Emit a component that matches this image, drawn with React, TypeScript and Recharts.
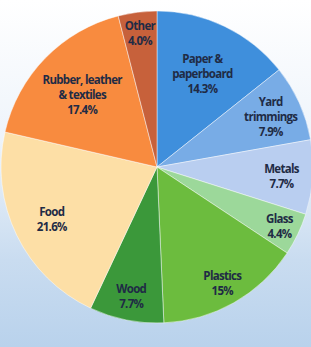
import { Cell, Pie, PieChart } from 'recharts';

const categories = [
  'Paper & paperboard',
  'Yard trimmings',
  'Metals',
  'Glass',
  'Plastics',
  'Wood',
  'Food',
  'Rubber, leather & textiles',
  'Other',
];
const shares = [14.3, 7.9, 7.7, 4.4, 15, 7.7, 21.6, 17.4, 4.0];
const shareLabels = ['14.3%', '7.9%', '7.7%', '4.4%', '15%', '7.7%', '21.6%', '17.4%', '4.0%'];
const labelLines = [
  ['Paper &', 'paperboard'],
  ['Yard', 'trimmings'],
  ['Metals'],
  ['Glass'],
  ['Plastics'],
  ['Wood'],
  ['Food'],
  ['Rubber, leather', '& textiles'],
  ['Other'],
];

const colors = [
  '#3f8fdc',
  '#78ace6',
  '#b9cef0',
  '#9cd89a',
  '#6cbc3e',
  '#3b983a',
  '#fddfa6',
  '#f88b3f',
  '#c7613b',
];

// how far out (fraction of radius) each label sits
const labelRadius = [0.67, 0.8, 0.8, 0.87, 0.85, 0.84, 0.75, 0.67, 0.87];

const data = categories.map((name, i) => ({ name, value: shares[i], idx: i }));

const RAD = Math.PI / 180;
const LINE_H = 15;

function SliceLabel(props: any) {
  const { cx, cy, midAngle, outerRadius, index } = props;
  const r = outerRadius * labelRadius[index];
  const x = cx + r * Math.cos(-midAngle * RAD);
  const y = cy + r * Math.sin(-midAngle * RAD);
  const lines = [...labelLines[index], shareLabels[index]];
  const top = y - ((lines.length - 1) * LINE_H) / 2;
  return (
    <text
      x={x}
      y={top}
      textAnchor="middle"
      dominantBaseline="central"
      fill="#1f2b45"
      fontSize={11.5}
      fontWeight={700}
      letterSpacing={-0.7}
      fontFamily="'Open Sans', sans-serif"
    >
      {lines.map((l, k) => (
        <tspan key={k} x={x} dy={k === 0 ? 0 : LINE_H}>
          {l}
        </tspan>
      ))}
    </text>
  );
}

export default function App() {
  return (
    <div
      style={{
        position: 'fixed',
        top: 0,
        left: 0,
        width: 311,
        height: 347,
        background: 'linear-gradient(180deg, #ffffff 0%, #eef4fb 40%, #c9dcf0 75%, #b9d2ec 100%)',
        overflow: 'hidden',
      }}
    >
      <PieChart width={311} height={347} margin={{ top: 0, right: 0, bottom: 0, left: 0 }}>
        <Pie
          data={data}
          dataKey="value"
          nameKey="name"
          cx={157}
          cy={167}
          outerRadius={156}
          startAngle={90}
          endAngle={-270}
          stroke="#ffffff"
          strokeOpacity={0.45}
          strokeWidth={1}
          label={SliceLabel}
          labelLine={false}
          isAnimationActive={false}
        >
          {data.map((d) => (
            <Cell key={d.name} fill={colors[d.idx]} />
          ))}
        </Pie>
      </PieChart>
    </div>
  );
}
